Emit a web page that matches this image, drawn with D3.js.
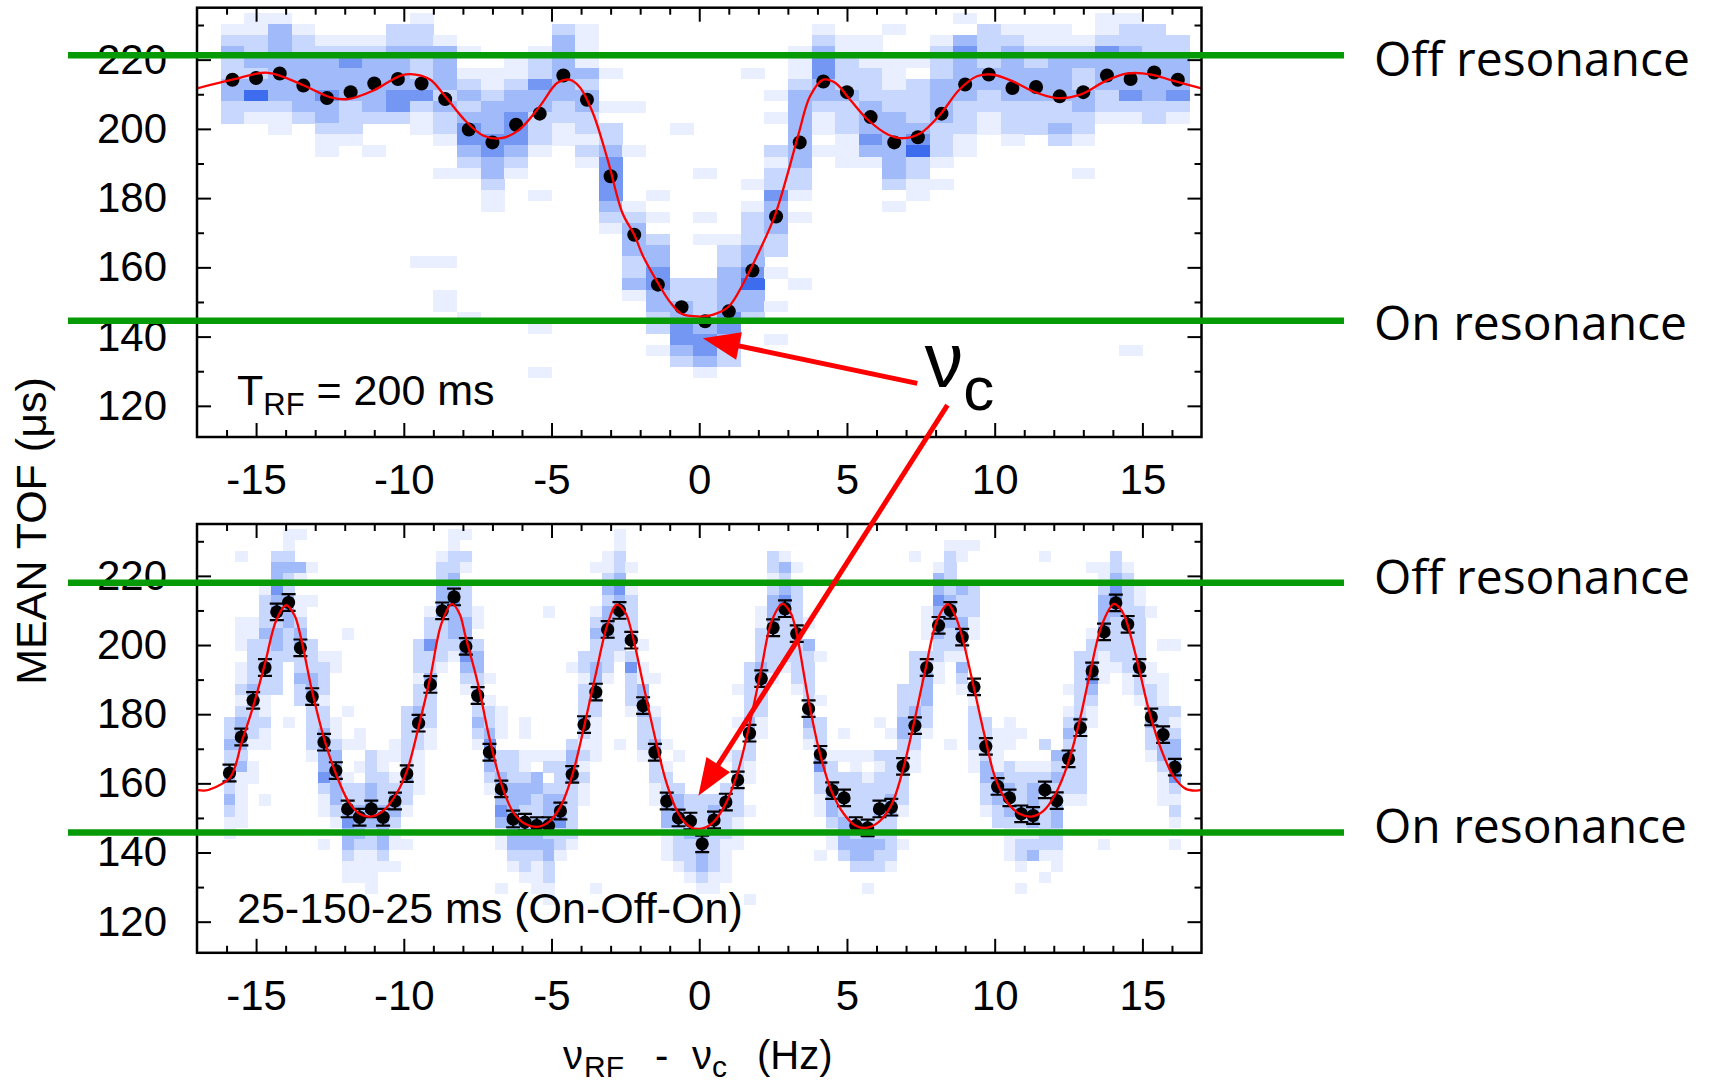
<!DOCTYPE html>
<html>
<head>
<meta charset="utf-8">
<script src="https://cdn.jsdelivr.net/npm/d3@7"></script>
<style>
  body { margin: 0; background: #fff; }
  svg { display: block; }
  text { white-space: pre; }
</style>
</head>
<body>
<div class="chart"></div>
<script>
// ---- data ----
// top panel: T_RF = 200 ms
const topFreq = [-15.8,-15.0,-14.2,-13.4,-12.6,-11.8,-11.0,-10.2,-9.4,-8.6,-7.8,-7.0,-6.2,-5.4,-4.6,-3.8,-3.0,-2.2,-1.4,-0.6,
  0.2,1.0,1.8,2.6,3.4,4.2,5.0,5.8,6.6,7.4,8.2,9.0,9.8,10.6,11.4,12.2,13.0,13.8,14.6,15.4,16.2];
const topTof = [214.2,214.7,216.0,212.5,208.9,210.6,213.1,214.4,213.1,208.6,199.8,196.1,201.2,204.4,215.4,208.4,186.3,169.4,155.0,148.5,
  144.4,147.3,159.1,174.7,196.1,213.7,210.6,203.4,196.1,197.6,204.4,212.8,215.7,211.8,212.1,209.4,210.6,215.4,214.4,216.3,214.2];
const topFit = [[-17,211.7],[-15.8,214.2],[-14.6,216.2],[-13.4,212.6],[-12.5,209.2],[-11.9,208.6],[-11.0,211.2],[-10.1,215.4],
  [-9.6,215.7],[-9.1,214.2],[-8.6,209.4],[-7.9,202.2],[-7.3,198.0],[-6.7,197.3],[-6.1,199.7],[-5.4,206.5],[-4.8,213.3],[-4.4,214.2],
  [-4.05,212.1],[-3.6,204.6],[-3.1,191.1],[-2.6,175.7],[-2.2,169.4],[-1.9,163.2],[-1.4,155.5],[-1.0,150.1],[-0.6,146.6],[-0.05,145.8],
  [0.45,146.3],[1.0,148.7],[1.5,155.5],[2.0,164.1],[2.55,174.7],[3.0,187.3],[3.37,198.8],[3.75,209.4],[4.2,214.2],[4.6,213.3],
  [5.1,208.5],[5.7,202.7],[6.4,198.3],[6.9,197.3],[7.5,198.8],[8.15,204.1],[8.8,211.3],[9.4,215.2],[9.9,215.7],[10.6,213.8],
  [11.3,210.8],[12.1,208.9],[12.9,209.9],[13.75,213.8],[14.5,216.0],[15.3,215.7],[16.0,214.0],[17,211.7]];
// TOF histogram per frequency column: "firstBin:levels" (bin 0 = 230.4-233.6 us, going down by 3.2 us)
const topHist = ["1:123223322","0:1122323521","0:13333333211","1:122333332","2:12333433211","2:1243332221","2:12333332 12:1",
  "1:223333442","0:12232234211 22:1","2:1333323221 14:1 22:1 25:11","3:1 5:1232344321 27:1","5:1123334433211","4:11233444321",
  "3:1224332221 16:1 28:1 32:1","1:23333332211","1:1111323322121","5:1 8:1 10:2234444321","8:1 12:1 17:123332231",
  "16:1 18:1 20:233443322 30:1","10:1 24:22334432","14:1 18:1 20:1 24:222234431","20:122333344322","5:1 15:1 17:12223345332",
  "7:1 9:1 12:2122433322 23:1 26:1 29:1","3:11123333333221 18:1 24:1","1:123443321101","2:112223222111","2:111222333431",
  "1:1 4:11122333333201","4:1022223452211","2:12223333222101","0:1034333322211","1:2222332211","1:12333332221","1:1122333222",
  "1:11233332232","2:1232233221 14:1","0:1124333221","0:1223333421 30:1","1:222333322","2:22333421"];

// bottom panel: 25-150-25 ms (On-Off-On)
const bottomFreq = [-15.9,-15.5,-15.1,-14.7,-14.3,-13.9,-13.5,-13.1,-12.7,-12.3,-11.9,-11.5,-11.1,-10.7,-10.3,-9.9,-9.5,-9.1,-8.7,-8.3,
  -7.9,-7.5,-7.1,-6.7,-6.3,-5.9,-5.5,-5.1,-4.7,-4.3,-3.9,-3.5,-3.1,-2.7,-2.3,-1.9,-1.5,-1.1,-0.7,-0.3,
  0.1,0.5,0.9,1.3,1.7,2.1,2.5,2.9,3.3,3.7,4.1,4.5,4.9,5.3,5.7,6.1,6.5,6.9,7.3,7.7,
  8.1,8.5,8.9,9.3,9.7,10.1,10.5,10.9,11.3,11.7,12.1,12.5,12.9,13.3,13.7,14.1,14.5,14.9,15.3,15.7,16.1];
const bottomTof = [163.0,173.4,184.0,193.5,209.6,212.3,199.2,185.1,171.9,163.7,152.6,150.2,152.6,150.2,154.9,162.8,177.4,188.6,209.9,213.9,
  199.6,185.4,169.0,158.4,149.7,148.8,147.8,147.8,152.0,162.6,177.0,186.4,204.5,210.0,201.4,182.5,169.0,154.9,150.0,149.1,
  142.5,149.4,154.6,161.0,174.5,190.3,205.0,210.5,203.3,181.6,168.4,157.9,155.8,147.8,147.1,152.6,153.1,164.9,176.7,193.5,
  205.7,210.0,202.3,187.9,170.7,159.1,155.8,151.2,150.7,158.1,155.0,167.1,176.1,192.5,203.8,212.2,206.0,193.5,179.2,174.1,164.7];
const bottomErr = 2.4;
const bottomFit = [[-17,158.1],[-16.75,157.9],[-16.4,158.8],[-15.87,161.8],[-15.47,172.4],[-15.09,182.5],[-14.7,194.6],[-14.32,207.1],
  [-13.98,211.5],[-13.7,208.6],[-13.5,202.8],[-13.11,186.9],[-12.68,172.4],[-12.29,162.6],[-11.89,155.0],[-11.5,151.2],[-11.1,150.4],
  [-10.68,152.2],[-10.25,157.0],[-9.89,163.7],[-9.5,176.3],[-9.09,191.2],[-8.73,206.1],[-8.37,211.9],[-8.11,209.0],[-7.92,202.8],
  [-7.49,188.8],[-7.11,173.4],[-6.7,159.9],[-6.3,151.7],[-5.9,148.3],[-5.5,147.4],[-5.1,148.8],[-4.7,153.2],[-4.3,162.3],[-3.9,176.3],
  [-3.5,191.7],[-3.1,206.1],[-2.79,211.7],[-2.51,209.5],[-2.3,204.2],[-1.9,188.8],[-1.5,173.4],[-1.1,159.9],[-0.7,151.2],[-0.3,147.4],
  [0.08,146.9],[0.48,148.8],[0.87,153.7],[1.27,162.3],[1.67,175.8],[2.08,192.2],[2.46,207.1],[2.82,211.9],[3.08,209.5],[3.25,205.2],
  [3.68,184.9],[4.06,169.5],[4.47,157.9],[4.89,151.2],[5.28,147.8],[5.62,147.1],[6.07,148.8],[6.5,153.7],[6.86,162.8],[7.26,177.2],
  [7.65,192.7],[8.05,207.1],[8.42,211.8],[8.61,209.5],[8.84,204.2],[9.24,189.8],[9.67,173.4],[10.03,161.3],[10.46,154.1],[10.84,151.2],
  [11.25,150.4],[11.67,152.2],[12.06,157.0],[12.46,165.2],[12.85,177.2],[13.21,191.2],[13.64,206.1],[14.04,211.9],[14.26,210.4],
  [14.43,207.6],[14.82,195.5],[15.22,181.1],[15.65,169.5],[16.07,161.8],[16.47,158.4],[16.81,157.9],[17,158.1]];
const bottomHist = ["17:22322323211","2:1 8:111 12:112123332311111","8:112222332221011","5:122232232211211 24:1","2:2334332332222",
  "0:112322333222 17:1","0:1003101123322322","3:1 6:1 10:22233222221","11:122212233334211 28:1","11:11 17:1123333321",
  "9:1 16:1 19:1 22:1223433211","18:11010223332111","20:2223333221111","20:11222333321","19:110123321101","16:2222223221 28:1",
  "10:22212233221111","7:1224223222211","2:12233322221","0:112233433321",
  "0:102102223334321","7:1102332222321","13:10122343321","16:1110223334311 32:1","20:22233333321","17:110112332233221",
  "20:1033223332111","7:1 20:12023332332211","20:1222334221","12:1 19:2333222221","11:22122232121211","3:1 7:12322332221111 32:1",
  "2:112323332221","0:112234332221 19:1","3:10122220242221","10:10113332221","13:100122322211","19:10122333111","20:10023332221",
  "24:22232221",
  "24:222323321","24:232222211","20:100222221111","14:1 17:1 20:222222111","12:22222332211 25:1 33:1","7:112223322211",
  "2:221233322221","2:13234322221","3:102222222221","8:103222222321","11:1 15:1 17:222342211 29:1","20:122333211",
  "18:101022223332","20:11222222332","20:1012222333201","17:10021222322322","18:1022223322221","14:222332222221 28:1",
  "2:1 11:22222332211","7:111022333221",
  "3:13343332211","1:12222333221 19:1","1:11003223321321","1:1 5:22211 14:21222211","17:222233221","18:111133322",
  "17:1110223232111","18:100122232122101","21:123333123","2:1 19:2 21:122222221 31:1","20:32322332211","14:10123232221",
  "11:22222232222221","3:1 9:122343211","3:11233322111 28:1","2:22344322221","3:122223222211","5:11222223221",
  "7:1 12:112223221","10:1 13:111222332111","10:1 16:2123334212101"];

const xTicks = [-15, -10, -5, 0, 5, 10, 15];
const yTicks = [120, 140, 160, 180, 200, 220];
const resonance = [
  { panel: 0, value: 221.3, label: "Off resonance" },
  { panel: 0, value: 144.6, label: "On resonance" },
  { panel: 1, value: 218.0, label: "Off resonance" },
  { panel: 1, value: 145.8, label: "On resonance" }
];

// ---- setup ----
const width = 1709;
const height = 1084;
const tofBin = 3.2;
const topBin = 72;
const levelColors = ["#ffffff", "#e9efff", "#c8d7fd", "#a1bbfa", "#7497f3", "#3e6cef"];
const sans = "'Liberation Sans', Arial, Helvetica, sans-serif";

const svg = d3.select(".chart")
  .append("svg")
  .attr("width", width)
  .attr("height", height)
  .attr("font-family", sans);

const x = d3.scaleLinear().domain([-17, 17]).range([197, 1201.5]);

const panels = [
  { top: 7.7, bottom: 437, freq: topFreq, tof: topTof, fit: topFit, hist: topHist, binW: 0.8, err: 0, r: 7 },
  { top: 524, bottom: 952.8, freq: bottomFreq, tof: bottomTof, fit: bottomFit, hist: bottomHist, binW: 0.4, err: bottomErr, r: 6.6 }
];

panels.forEach((p, pi) => {
  const y = d3.scaleLinear().domain([111, 235]).range([p.bottom, p.top]);
  p.y = y;
  const g = svg.append("g");

  svg.append("clipPath")
    .attr("id", "clip" + pi)
    .append("rect")
    .attr("x", x.range()[0])
    .attr("y", p.top)
    .attr("width", x.range()[1] - x.range()[0])
    .attr("height", p.bottom - p.top);

  const plot = g.append("g").attr("clip-path", `url(#clip${pi})`);

  // histogram cells
  const cells = [];
  p.hist.forEach((col, i) => {
    col.split(" ").forEach((tok) => {
      const [start, levels] = tok.split(":");
      [...levels].forEach((c, j) => {
        if (+c > 0) cells.push({ f: p.freq[i], bin: topBin - (+start + j), level: +c });
      });
    });
  });

  plot.selectAll("rect.cell")
    .data(cells)
    .enter()
    .append("rect")
    .attr("class", "cell")
    .attr("x", (d) => x(d.f - p.binW / 2))
    .attr("width", (d) => x(d.f + p.binW / 2) - x(d.f - p.binW / 2) + 0.3)
    .attr("y", (d) => y((d.bin + 1) * tofBin))
    .attr("height", (d) => y(d.bin * tofBin) - y((d.bin + 1) * tofBin) + 0.3)
    .attr("fill", (d) => levelColors[d.level])
    .attr("shape-rendering", "crispEdges");

  const pts = p.freq.map((f, i) => ({ f, v: p.tof[i] }));

  // error bars
  if (p.err > 0) {
    const eb = plot.selectAll("g.err").data(pts).enter().append("g").attr("class", "err")
      .attr("stroke", "#000").attr("stroke-width", 2.2);
    eb.append("line")
      .attr("x1", (d) => x(d.f)).attr("x2", (d) => x(d.f))
      .attr("y1", (d) => y(d.v - p.err)).attr("y2", (d) => y(d.v + p.err));
    [-1, 1].forEach((s) => {
      eb.append("line")
        .attr("x1", (d) => x(d.f) - 7).attr("x2", (d) => x(d.f) + 7)
        .attr("y1", (d) => y(d.v + s * p.err)).attr("y2", (d) => y(d.v + s * p.err));
    });
  }

  // data points
  plot.selectAll("circle")
    .data(pts)
    .enter()
    .append("circle")
    .attr("cx", (d) => x(d.f))
    .attr("cy", (d) => y(d.v))
    .attr("r", p.r)
    .attr("fill", "#000");

  // fit
  plot.append("path")
    .datum(p.fit)
    .attr("d", d3.line().x((d) => x(d[0])).y((d) => y(d[1])).curve(d3.curveCatmullRom.alpha(0.5)))
    .attr("fill", "none")
    .attr("stroke", "#ff0000")
    .attr("stroke-width", 2.3);

  // axes (ticks inward on all four sides)
  const minorX = d3.range(-16, 17).filter((v) => v % 5 !== 0);
  const minorY = yTicks.map((v) => v + 10);
  const styleAxis = (sel) => {
    sel.select(".domain").remove();
    sel.selectAll("line").attr("stroke-width", 2);
    sel.selectAll("text").attr("font-family", sans).attr("font-size", 42);
  };
  const addAxis = (axis, tx, ty) => g.append("g").attr("transform", `translate(${tx},${ty})`).call(axis).call(styleAxis);

  addAxis(d3.axisBottom(x).tickValues(xTicks).tickSize(-14).tickPadding(27).tickFormat((d) => String(d)), 0, p.bottom);
  addAxis(d3.axisBottom(x).tickValues(minorX).tickSize(-7).tickFormat(""), 0, p.bottom);
  addAxis(d3.axisTop(x).tickValues(xTicks).tickSize(-14).tickFormat(""), 0, p.top);
  addAxis(d3.axisTop(x).tickValues(minorX).tickSize(-7).tickFormat(""), 0, p.top);
  addAxis(d3.axisLeft(y).tickValues(yTicks).tickSize(-14).tickPadding(30), x.range()[0], 0);
  addAxis(d3.axisLeft(y).tickValues(minorY).tickSize(-7).tickFormat(""), x.range()[0], 0);
  addAxis(d3.axisRight(y).tickValues(yTicks).tickSize(-14).tickFormat(""), x.range()[1], 0);
  addAxis(d3.axisRight(y).tickValues(minorY).tickSize(-7).tickFormat(""), x.range()[1], 0);

  g.append("rect")
    .attr("x", x.range()[0])
    .attr("y", p.top)
    .attr("width", x.range()[1] - x.range()[0])
    .attr("height", p.bottom - p.top)
    .attr("fill", "none")
    .attr("stroke", "#000")
    .attr("stroke-width", 2.5);
});

// panel notes
const note0 = svg.append("text").attr("x", 237).attr("y", panels[0].bottom - 32).attr("font-size", 43);
note0.append("tspan").text("T");
note0.append("tspan").attr("font-size", 31).attr("dy", 10).text("RF");
note0.append("tspan").attr("dy", -10).text(" = 200 ms");

svg.append("text")
  .attr("x", 237)
  .attr("y", panels[1].bottom - 30)
  .attr("font-size", 43)
  .text("25-150-25 ms (On-Off-On)");

// axis titles
svg.append("text")
  .attr("transform", "translate(46,531) rotate(-90)")
  .attr("text-anchor", "middle")
  .attr("font-size", 43)
  .text("MEAN TOF (\u03bcs)");

const xt = svg.append("text").attr("font-size", 40);
xt.append("tspan").attr("x", 563).attr("y", 1069).text("\u03bd");
xt.append("tspan").attr("x", 584).attr("y", 1077).attr("font-size", 30).text("RF");
xt.append("tspan").attr("x", 655).attr("y", 1069).text("-");
xt.append("tspan").attr("x", 692).attr("y", 1069).text("\u03bd");
xt.append("tspan").attr("x", 712).attr("y", 1077).attr("font-size", 30).text("c");
xt.append("tspan").attr("x", 757).attr("y", 1069).text("(Hz)");

// resonance guide lines
const labelDy = [21, 19, 11, 11];
resonance.forEach((r, i) => {
  const yy = panels[r.panel].y(r.value);
  svg.append("line")
    .attr("x1", 68).attr("x2", 1344)
    .attr("y1", yy).attr("y2", yy)
    .attr("stroke", "#079a07")
    .attr("stroke-width", 6.5);
  svg.append("text")
    .attr("x", 1374)
    .attr("y", yy + labelDy[i])
    .attr("font-family", "'Open Sans', 'Noto Sans', sans-serif")
    .attr("font-size", 48)
    .text(r.label);
});

// nu_c arrows (positions in panel data coordinates)
const arrows = [
  { from: [0, 7.38, 126.5], to: [0, 0.12, 139.5] },
  { from: [0, 8.40, 120.2], to: [1, -0.03, 156.4] }
];
arrows.forEach((a) => {
  const x0 = x(a.from[1]), y0 = panels[a.from[0]].y(a.from[2]);
  const x1 = x(a.to[1]), y1 = panels[a.to[0]].y(a.to[2]);
  const len = Math.hypot(x1 - x0, y1 - y0);
  const ux = (x1 - x0) / len, uy = (y1 - y0) / len;
  const hl = 37, hw = 14;
  const bx = x1 - ux * hl, by = y1 - uy * hl;
  svg.append("line")
    .attr("x1", x0).attr("y1", y0).attr("x2", bx + ux * 4).attr("y2", by + uy * 4)
    .attr("stroke", "#ff0000").attr("stroke-width", 5);
  svg.append("polygon")
    .attr("points", [[x1, y1], [bx - uy * hw, by + ux * hw], [bx + uy * hw, by - ux * hw]].map((q) => q.join(",")).join(" "))
    .attr("fill", "#ff0000");
});

const nu = svg.append("text")
  .attr("x", x(7.63))
  .attr("y", panels[0].y(125.4))
  .attr("font-size", 77);
nu.append("tspan").text("\u03bd");
nu.append("tspan").attr("font-size", 62).attr("dy", 23).text("c");
</script>
</body>
</html>
